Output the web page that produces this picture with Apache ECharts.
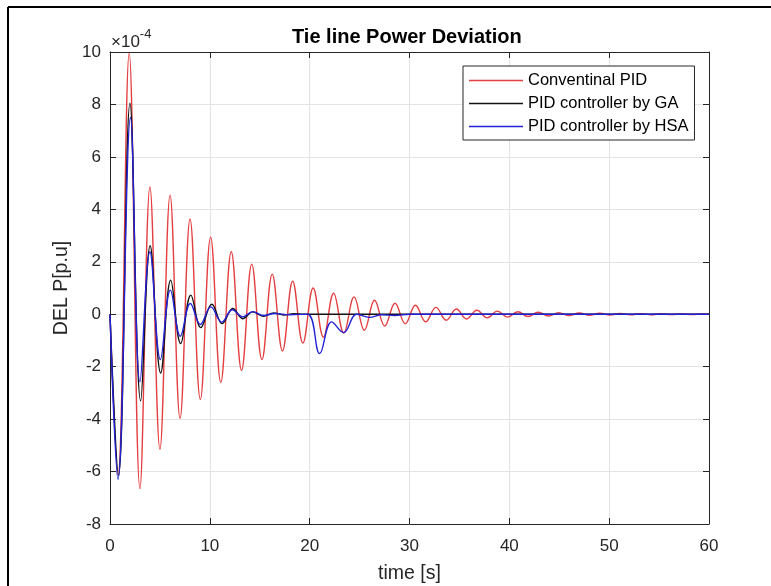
<!DOCTYPE html>
<html>
<head>
<meta charset="utf-8">
<script src="https://cdn.jsdelivr.net/npm/echarts@6/dist/echarts.min.js"></script>
<style>
html,body{margin:0;padding:0;background:#fff;}
#chart{width:771px;height:586px;}
</style>
</head>
<body>
<div id="chart"></div>
<script>
// Values in units of 1e-4 p.u.
const tConv = [0, 0.8, 1.92, 3.0, 4.0, 5.0, 6.02, 7.02, 8.02, 9.05, 10.08, 11.1, 12.15, 13.18, 14.2, 15.22, 16.25, 17.28, 18.3, 19.32, 20.35, 21.38, 22.4, 23.42, 24.45, 25.48, 26.5, 27.52, 28.55, 29.58, 30.6, 31.62, 32.65, 33.68, 34.7, 35.72, 36.75, 37.78, 38.8, 39.82, 40.85, 41.88, 42.9, 43.92, 44.95, 45.98, 47.0, 48.02, 49.05, 50.08, 51.1, 52.12, 53.15, 54.18, 55.2, 56.22, 57.25, 58.28, 59.3, 60];
const vConv = [0, -6.1, 9.95, -6.65, 4.85, -5.15, 4.54, -3.97, 3.63, -3.25, 2.94, -2.6, 2.38, -2.14, 1.91, -1.73, 1.53, -1.40, 1.26, -1.10, 1.0, -0.88, 0.8, -0.72, 0.66, -0.61, 0.53, -0.45, 0.42, -0.36, 0.34, -0.29, 0.26, -0.23, 0.2, -0.18, 0.15, -0.14, 0.12, -0.11, 0.095, -0.085, 0.075, -0.065, 0.06, -0.05, 0.047, -0.04, 0.037, -0.03, 0.03, -0.025, 0.023, -0.02, 0.018, -0.016, 0.014, -0.012, 0.011, 0];

const tGA = [0, 0.85, 2.0, 3.07, 4.02, 5.08, 6.08, 7.08, 8.1, 9.1, 10.2, 11.25, 12.3, 13.3, 14.3, 15.35, 16.4, 17.4, 18.4, 19.5, 21, 60];
const vGA = [0, -6.15, 8.05, -3.3, 2.61, -2.24, 1.30, -1.12, 0.73, -0.51, 0.38, -0.36, 0.22, -0.17, 0.09, -0.08, 0.05, -0.03, 0.02, 0, 0, 0];

const tHSA = [0, 0.8, 2.05, 3.0, 4.0, 5.05, 6.05, 7.05, 8.05, 9.05, 10.1, 11.2, 12.25, 13.3, 14.3, 15.4, 16.5, 18, 19.8, 21.0, 22.2, 23.4, 24.7, 26.0, 27.2, 28.5, 30, 60];
const vHSA = [0, -6.3, 7.5, -2.58, 2.38, -1.73, 0.92, -0.84, 0.41, -0.39, 0.28, -0.3, 0.17, -0.1, 0.1, -0.05, 0.03, -0.02, 0, -1.5, -0.29, -0.70, 0.0, -0.12, -0.02, -0.05, 0, 0];

const seriesNames = ['Conventinal PID', 'PID controller by GA', 'PID controller by HSA'];
const xTicks = [0, 10, 20, 30, 40, 50, 60];
const yTicks = [-8, -6, -4, -2, 0, 2, 4, 6, 8, 10];

const FONT = '"Liberation Sans", Arial, Helvetica, sans-serif';
const AX = '#262626';
const pairs = (t, v) => t.map((x, i) => [x, v[i]]);

const chart = echarts.init(document.getElementById('chart'), null, {renderer: 'canvas'});

const baseX = {
  type: 'value', min: xTicks[0], max: xTicks[xTicks.length - 1], interval: 10,
  axisLine: {show: true, onZero: false, lineStyle: {color: AX, width: 1}},
  axisTick: {show: true, inside: true, length: 6, lineStyle: {color: AX}},
  splitLine: {show: true, lineStyle: {color: '#e3e3e3', width: 1}}
};
const baseY = {
  type: 'value', min: yTicks[0], max: yTicks[yTicks.length - 1], interval: 2,
  axisLine: {show: true, onZero: false, lineStyle: {color: AX, width: 1}},
  axisTick: {show: true, inside: true, length: 6, lineStyle: {color: AX}},
  splitLine: {show: true, lineStyle: {color: '#e3e3e3', width: 1}}
};

chart.setOption({
  backgroundColor: '#fff',
  animation: false,
  title: {
    text: 'Tie line Power Deviation',
    left: 287, top: 22,
    textStyle: {fontFamily: FONT, fontSize: 20, fontWeight: 'bold', color: '#000'}
  },
  grid: {left: 110, top: 52, right: 62, bottom: 62, containLabel: false, outerBoundsMode: 'none'},
  legend: {
    data: seriesNames,
    orient: 'vertical',
    left: 463, top: 66,
    padding: [6, 6, 5, 6],
    itemGap: 6,
    icon: 'rect',
    itemWidth: 54, itemHeight: 1.3,
    backgroundColor: '#fff',
    borderColor: AX, borderWidth: 1,
    textStyle: {fontFamily: FONT, fontSize: 16.5, color: '#000', lineHeight: 17}
  },
  xAxis: [
    Object.assign({}, baseX, {
      position: 'bottom',
      name: 'time [s]', nameLocation: 'middle', nameGap: 40,
      nameTextStyle: {fontFamily: FONT, fontSize: 19.5, color: AX},
      axisLabel: {fontFamily: FONT, fontSize: 17, color: AX, margin: 14}
    }),
    Object.assign({}, baseX, {position: 'top', axisLabel: {show: false}, splitLine: {show: false}})
  ],
  yAxis: [
    Object.assign({}, baseY, {
      position: 'left',
      name: 'DEL P[p.u]', nameLocation: 'middle', nameGap: 36,
      nameTextStyle: {fontFamily: FONT, fontSize: 19.5, color: AX},
      axisLabel: {fontFamily: FONT, fontSize: 17, color: AX, margin: 9}
    }),
    Object.assign({}, baseY, {position: 'right', axisLabel: {show: false}, splitLine: {show: false}})
  ],
  series: [
    {name: seriesNames[0], type: 'line', data: pairs(tConv, vConv), smooth: 0.4, symbol: 'none',
     lineStyle: {color: '#e33e40', width: 1.4}, itemStyle: {color: '#e33e40'}},
    {name: seriesNames[1], type: 'line', data: pairs(tGA, vGA), smooth: 0.4, symbol: 'none',
     lineStyle: {color: '#111', width: 1.4}, itemStyle: {color: '#111'}},
    {name: seriesNames[2], type: 'line', data: pairs(tHSA, vHSA), smooth: 0.4, symbol: 'none',
     lineStyle: {color: '#2222d8', width: 1.4}, itemStyle: {color: '#2222d8'}}
  ],
  graphic: [
    {type: 'line', shape: {x1: 8, y1: 7, x2: 771, y2: 7}, style: {stroke: '#000', lineWidth: 2}},
    {type: 'line', shape: {x1: 8, y1: 7, x2: 8, y2: 586}, style: {stroke: '#000', lineWidth: 2}},
    {type: 'text', left: 111, top: 28,
     style: {text: '{a|×10}{b|-4}', rich: {
       a: {fontFamily: FONT, fontSize: 17, fill: AX, verticalAlign: 'bottom'},
       b: {fontFamily: FONT, fontSize: 13, fill: AX, verticalAlign: 'top', padding: [0, 0, 10, 0]}
     }}}
  ]
});
</script>
</body>
</html>
